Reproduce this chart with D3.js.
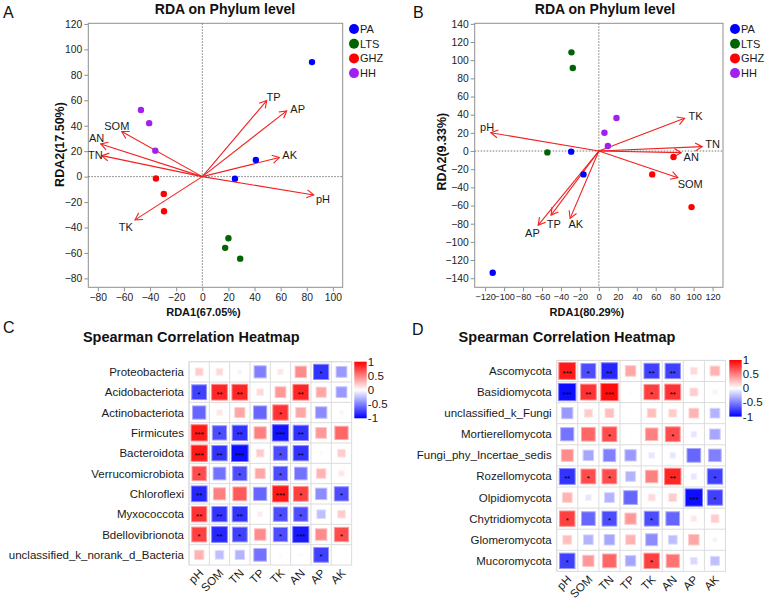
<!DOCTYPE html>
<html><head><meta charset="utf-8">
<script src="https://cdn.jsdelivr.net/npm/d3@7/dist/d3.min.js"></script>
<style>body{margin:0;background:#fff}svg{display:block;font-family:"Liberation Sans",Arial,sans-serif}</style>
</head><body>
<script>
// ---------------- DATA ----------------
const groups = ["PA","LTS","GHZ","HH"];
const envVars = ["pH","SOM","TN","TP","TK","AN","AP","AK"];

// Panel A (bacteria RDA)
const sampleGroupA = ["PA","PA","PA","LTS","LTS","LTS","GHZ","GHZ","GHZ","HH","HH","HH"];
const rda1A = [84, 41, 25, 20, 17.5, 29, -35.5, -29.5, -29.3, -47, -40.7, -36];
const rda2A = [90, 13, -1.6, -48.5, -56, -64.5, -1.5, -13.6, -27.2, 52.4, 42, 20.4];
const envRda1A = [85.3, -61.7, -77, 49.3, -51.5, -77.8, 64.6, 59];
const envRda2A = [-14.4, 35.4, 16.5, 59.8, -34, 25.7, 51.7, 15];
const envLabX_A = [92.4, -65.5, -81.9, 54.6, -58.6, -80.9, 73, 66.9];
const envLabY_A = [-17.7, 39.9, 16.5, 62.7, -40, 29.9, 52.7, 17.1];
const xTicksA = [-80,-60,-40,-20,0,20,40,60,80,100];
const yTicksA = [-80,-60,-40,-20,0,20,40,60,80,100,120];

// Panel B (fungi RDA)
const sampleGroupB = ["PA","PA","PA","LTS","LTS","LTS","GHZ","GHZ","GHZ","HH","HH","HH"];
const rda1B = [-29.2, -16.2, -112, -28.9, -27.5, -54.3, 78.8, 56.3, 97.8, 18.6, 5.9, 9.5];
const rda2B = [-0.7, -25.7, -134, 108.6, 91.4, -1.5, -6.6, -25.7, -61.7, 36.3, 20.2, 5.5];
const envRda1B = [-114, 83.4, 109, -50.4, 90.4, 86.9, -64, -30.3];
const envRda2B = [20.2, -29.4, 4.8, -70.5, 36, -1.8, -81.5, -74.1];
const envLabX_B = [-117.9, 96.4, 120, -47.5, 102, 97.5, -70.1, -24.3];
const envLabY_B = [26.4, -36, 7.3, -80.7, 38.5, -6.6, -90, -80.7];
const xTicksB = [-120,-100,-80,-60,-40,-20,0,20,40,60,80,100,120];
const yTicksB = [-140,-120,-100,-80,-60,-40,-20,0,20,40,60,80,100,120,140];

// Panel C (bacteria Spearman)
const taxaC = ["Proteobacteria","Acidobacteriota","Actinobacteriota","Firmicutes","Bacteroidota",
  "Verrucomicrobiota","Chloroflexi","Myxococcota","Bdellovibrionota","unclassified_k_norank_d_Bacteria"];
const corrC = [
  [0.2, 0.15, -0.05, -0.5, 0.1, 0.45, -0.8, -0.4],
  [-0.75, 0.85, 0.85, 0.15, 0.4, 0.85, 0.35, -0.4],
  [-0.6, 0.1, 0.35, -0.6, 0.8, 0.35, -0.45, 0.05],
  [0.9, -0.7, -0.8, 0.5, -0.92, -0.8, 0.4, 0.6],
  [0.9, -0.8, -0.95, 0.2, -0.7, -0.8, 0.03, 0.2],
  [0.7, -0.55, -0.7, 0.35, -0.7, -0.55, 0.3, 0.1],
  [-0.85, 0.5, 0.65, -0.6, 0.9, 0.75, -0.45, -0.7],
  [0.8, -0.8, -0.8, 0.08, -0.7, -0.7, -0.25, 0.2],
  [0.75, -0.85, -0.75, 0.45, -0.7, -0.9, 0.45, 0.7],
  [0.3, -0.25, -0.3, -0.55, 0.03, 0.03, -0.75, 0.01]
];
const sigC = [
  ["","","","","","","*",""],
  ["*","**","**","","","**","",""],
  ["","","","","*","","",""],
  ["***","*","**","","***","**","",""],
  ["***","**","***","","*","**","",""],
  ["*","","*","","*","","",""],
  ["**","","","","***","*","","*"],
  ["**","**","**","","*","*","",""],
  ["*","**","*","","*","***","","*"],
  ["","","","","","","*",""]
];

// Panel D (fungi Spearman)
const taxaD = ["Ascomycota","Basidiomycota","unclassified_k_Fungi","Mortierellomycota","Fungi_phy_Incertae_sedis",
  "Rozellomycota","Olpidiomycota","Chytridiomycota","Glomeromycota","Mucoromycota"];
const corrD = [
  [0.9, -0.7, -0.85, 0.35, -0.75, -0.75, 0.15, 0.3],
  [-0.95, 0.8, 0.95, -0.02, 0.75, 0.8, 0.2, -0.05],
  [-0.4, 0.2, 0.25, 0.02, 0.25, 0.2, 0.3, -0.3],
  [-0.55, 0.6, 0.7, 0.02, 0.5, 0.7, -0.1, -0.35],
  [0.45, -0.35, -0.5, -0.4, -0.1, -0.1, -0.6, -0.5],
  [-0.8, 0.7, 0.7, -0.3, 0.5, 0.85, -0.1, -0.75],
  [0.3, -0.1, -0.3, -0.6, 0.15, 0.2, -0.95, -0.75],
  [0.75, -0.6, -0.7, 0.4, -0.7, -0.6, 0.1, 0.2],
  [0.25, -0.3, -0.35, 0.3, -0.45, -0.25, 0.35, -0.05],
  [-0.75, 0.4, 0.6, -0.35, 0.75, 0.55, -0.15, -0.25]
];
const sigD = [
  ["***","*","**","","**","**","",""],
  ["***","**","***","","*","**","",""],
  ["","","","","","","",""],
  ["","","*","","","*","",""],
  ["","","","","","","",""],
  ["**","*","*","","","**","","*"],
  ["","","","","","","***","*"],
  ["*","","*","","*","","",""],
  ["","","","","","","",""],
  ["*","","","","*","","",""]
];
const legendTicks = [1, 0.5, 0, -0.5, -1];

// ---------------- DRAW ----------------
const svg = d3.select("body").append("svg").attr("width", 767).attr("height", 601);
const groupColor = d3.scaleOrdinal().domain(groups).range(["#0000FF","#006400","#FF0000","#A020F0"]);
const txt = "#1a1a1a";

function panelLetter(t, x, y) {
  svg.append("text").attr("x", x).attr("y", y).text(t)
    .attr("font-size", 16).attr("fill", "#111");
}

function rdaPanel(o) {
  const x = d3.scaleLinear().domain(o.xd).range(o.xr);
  const y = d3.scaleLinear().domain(o.yd).range(o.yr);
  const g = svg.append("g");
  g.append("rect").attr("x", o.xr[0]).attr("y", o.yr[1])
    .attr("width", o.xr[1]-o.xr[0]).attr("height", o.yr[0]-o.yr[1])
    .attr("fill", "none").attr("stroke", "#8f8f8f").attr("stroke-width", 1);
  const ax = g.append("g").attr("transform", `translate(0,${o.yr[0]})`)
    .call(d3.axisBottom(x).tickValues(o.xt).tickSize(4).tickPadding(2).tickFormat(d3.format("d")));
  const ay = g.append("g").attr("transform", `translate(${o.xr[0]},0)`)
    .call(d3.axisLeft(y).tickValues(o.yt).tickSize(4).tickPadding(2).tickFormat(d3.format("d")));
  [ax, ay].forEach((a, k) => {
    a.select(".domain").remove();
    a.selectAll(".tick line").attr("stroke", "#8f8f8f");
    a.selectAll(".tick text").attr("fill", "#222").attr("font-size", k === 0 ? o.xtf : 10.3)
      .attr("font-family", "'Liberation Sans',Arial,sans-serif");
  });
  g.append("line").attr("x1", x(0)).attr("x2", x(0)).attr("y1", o.yr[1]).attr("y2", o.yr[0])
    .attr("stroke", "#777").attr("stroke-dasharray", "1.5,1.5");
  g.append("line").attr("x1", o.xr[0]).attr("x2", o.xr[1]).attr("y1", y(0)).attr("y2", y(0))
    .attr("stroke", "#777").attr("stroke-dasharray", "1.5,1.5");
  const red = "#F22020";
  o.env.forEach((v, i) => {
    const x0 = x(0), y0 = y(0), x1 = x(o.ex[i]), y1 = y(o.ey[i]);
    const ang = Math.atan2(y1 - y0, x1 - x0);
    g.append("line").attr("x1", x0).attr("y1", y0).attr("x2", x1).attr("y2", y1)
      .attr("stroke", red).attr("stroke-width", 1.1);
    const L = 8, a = Math.PI / 6;
    const p = [[x1 - L*Math.cos(ang - a), y1 - L*Math.sin(ang - a)], [x1, y1],
               [x1 - L*Math.cos(ang + a), y1 - L*Math.sin(ang + a)]];
    g.append("path").attr("d", d3.line()(p)).attr("fill", "none")
      .attr("stroke", red).attr("stroke-width", 1.1);
    g.append("text").attr("x", x(o.lx[i])).attr("y", y(o.ly[i])).attr("dy", "0.35em")
      .attr("text-anchor", "middle").attr("font-size", 11).attr("fill", txt).text(v);
  });
  o.s1.forEach((v, i) => {
    g.append("circle").attr("cx", x(v)).attr("cy", y(o.s2[i])).attr("r", 3.2)
      .attr("fill", groupColor(o.sg[i]));
  });
  g.append("text").attr("x", o.titleX).attr("y", 14).attr("text-anchor", "middle")
    .attr("font-size", 14).attr("font-weight", "bold").attr("fill", "#111").text("RDA on Phylum level");
  g.append("text").attr("x", (o.xr[0]+o.xr[1])/2 - 12).attr("y", 316).attr("text-anchor", "middle")
    .attr("font-size", 11).attr("font-weight", "bold").attr("fill", "#111").text(o.xlab);
  g.append("text").attr("transform", `translate(${o.ylabX},${o.ylabY}) rotate(-90)`)
    .attr("text-anchor", "middle").attr("font-size", 12.5).attr("font-weight", "bold")
    .attr("fill", "#111").text(o.ylab);
  groups.forEach((gr, i) => {
    const ly = 29 + i * 14.7;
    g.append("circle").attr("cx", o.legX).attr("cy", ly).attr("r", 5).attr("fill", groupColor(gr));
    g.append("text").attr("x", o.legX + 6).attr("y", ly).attr("dy", "0.35em")
      .attr("font-size", 11).attr("fill", txt).text(gr);
  });
}

rdaPanel({xd:[-87.3,107.5], xr:[88.3,342.7], yd:[-87,120.5], yr:[287.3,23.3],
  xt:xTicksA, yt:yTicksA, xtf:10.3, env:envVars, ex:envRda1A, ey:envRda2A, lx:envLabX_A, ly:envLabY_A,
  s1:rda1A, s2:rda2A, sg:sampleGroupA, titleX:225, xlab:"RDA1(67.05%)", ylab:"RDA2(17.50%)",
  ylabX:63.5, ylabY:144.5, legX:354});
rdaPanel({xd:[-131,131], xr:[474.7,723], yd:[-150,140.6], yr:[287.3,23.3],
  xt:xTicksB, yt:yTicksB, xtf:9.1, env:envVars, ex:envRda1B, ey:envRda2B, lx:envLabX_B, ly:envLabY_B,
  s1:rda1B, s2:rda2B, sg:sampleGroupB, titleX:605, xlab:"RDA1(80.29%)", ylab:"RDA2(9.33%)",
  ylabX:445.5, ylabY:151.7, legX:735});

const colorScale = d3.scaleLinear().domain([-1, 0, 1]).range(["#0000FF", "#FFFFFF", "#FF0000"]);

function heatPanel(o) {
  const g = svg.append("g");
  const cell = o.cell;
  const xb = d3.scaleBand().domain(envVars).range([o.left, o.left + cell*envVars.length]);
  const yb = d3.scaleBand().domain(o.taxa).range([o.top, o.top + cell*o.taxa.length]);
  const W = cell*envVars.length, H = cell*o.taxa.length;
  envVars.forEach((v) => {
    g.append("line").attr("x1", xb(v)).attr("x2", xb(v)).attr("y1", o.top).attr("y2", o.top+H)
      .attr("stroke", "#dcdcdc");
  });
  o.taxa.forEach((t) => {
    g.append("line").attr("x1", o.left).attr("x2", o.left+W).attr("y1", yb(t)).attr("y2", yb(t))
      .attr("stroke", "#dcdcdc");
  });
  g.append("rect").attr("x", o.left).attr("y", o.top).attr("width", W).attr("height", H)
    .attr("fill", "none").attr("stroke", "#dcdcdc");
  o.taxa.forEach((t, i) => {
    envVars.forEach((v, j) => {
      const r = o.corr[i][j];
      const s = Math.max(1.5, cell * 0.84 * Math.sqrt(Math.abs(r)));
      const cx = xb(v) + cell/2, cy = yb(t) + cell/2;
      const c = colorScale(r);
      g.append("rect").attr("x", cx - s/2).attr("y", cy - s/2).attr("width", s).attr("height", s)
        .attr("fill", c).attr("stroke", d3.interpolateRgb(c, "#ffffff")(0.45)).attr("stroke-width", 1);
      const sg = o.sig[i][j];
      if (sg) {
        g.append("text").attr("x", cx).attr("y", cy + 4.6).attr("text-anchor", "middle")
          .attr("font-size", 8).attr("fill", "#000").text(sg);
      }
    });
    g.append("text").attr("x", o.left - 5).attr("y", yb(t) + cell/2).attr("dy", "0.35em")
      .attr("text-anchor", "end").attr("font-size", 11.5).attr("fill", txt).text(t);
  });
  envVars.forEach(v => {
    const cx = xb(v) + cell/2 + 2, cy = o.top + H + 6;
    g.append("text").attr("transform", `translate(${cx},${cy}) rotate(-45)`)
      .attr("text-anchor", "end").attr("dy", "0.35em").attr("font-size", 11.5).attr("fill", txt).text(v);
  });
  g.append("text").attr("x", o.titleX).attr("y", o.titleY).attr("text-anchor", "middle")
    .attr("font-size", 14.5).attr("font-weight", "bold").attr("fill", "#111").text("Spearman Correlation Heatmap");
  const gid = "grad" + o.id;
  const grad = svg.append("defs").append("linearGradient").attr("id", gid)
    .attr("x1", 0).attr("y1", 0).attr("x2", 0).attr("y2", 1);
  [1, 0, -1].forEach((v, k) => grad.append("stop").attr("offset", k/2).attr("stop-color", colorScale(v)));
  g.append("rect").attr("x", o.cbX).attr("y", o.cbY).attr("width", 12.4).attr("height", 56.6)
    .attr("fill", `url(#${gid})`);
  const ly = d3.scaleLinear().domain([1, -1]).range([o.cbY, o.cbY + 56.6]);
  legendTicks.forEach(v => {
    g.append("text").attr("x", o.cbX + 13.5).attr("y", ly(v)).attr("dy", "0.35em")
      .attr("font-size", 11.5).attr("fill", txt).text(v);
  });
}

heatPanel({id:"C", taxa:taxaC, corr:corrC, sig:sigC, left:189, top:361.7, cell:20.33,
  titleX:191.3, titleY:342, cbX:354.3, cbY:361.7});
heatPanel({id:"D", taxa:taxaD, corr:corrD, sig:sigD, left:556.7, top:360.4, cell:21.1,
  titleX:567, titleY:341.5, cbX:729.3, cbY:360});

panelLetter("A", 3, 18);
panelLetter("B", 413, 18);
panelLetter("C", 3, 333);
panelLetter("D", 412, 335);
</script>
</body></html>
